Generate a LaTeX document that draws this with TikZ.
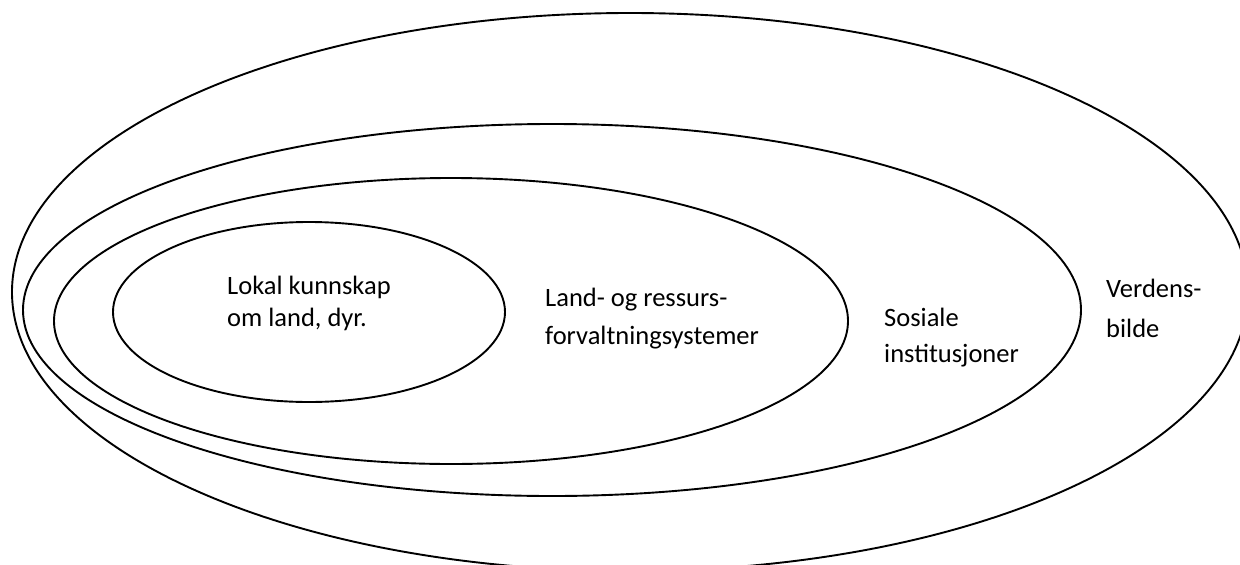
\documentclass[tikz,border=0pt]{standalone}
\usepackage{fontspec}
\setmainfont{Carlito}
\begin{document}
\begin{tikzpicture}[x=1pt,y=-1pt,
  ring/.style={draw=black,line width=1.9pt},
  lbl/.style={anchor=base west,inner sep=0pt,font=\fontsize{26.5}{32}\selectfont}]
\useasboundingbox (0,0) rectangle (1240,565);
\clip (0,0) rectangle (1240,565);
% rings
\draw[ring] (630,292) ellipse [x radius=618pt, y radius=279pt];
\draw[ring] (552,310) ellipse [x radius=529pt, y radius=186pt];
\draw[ring] (451,321) ellipse [x radius=397pt, y radius=143pt];
\draw[ring] (309,312) ellipse [x radius=196pt, y radius=90pt];
% labels
\node[lbl] (l1a) at (227,294) {Lokal kunnskap};
\node[lbl] (l1b) at (227,326) {om land, dyr.};
\node[lbl] (l2a) at (545,306) {Land- og ressurs-};
\node[lbl] (l2b) at (545,344) {forvaltningsystemer};
\node[lbl] (l3a) at (884,326) {Sosiale};
\node[lbl] (l3b) at (884,362) {institusjoner};
\node[lbl] (l4a) at (1106,297) {Verdens-};
\node[lbl] (l4b) at (1106,337) {bilde};
\end{tikzpicture}
\end{document}
